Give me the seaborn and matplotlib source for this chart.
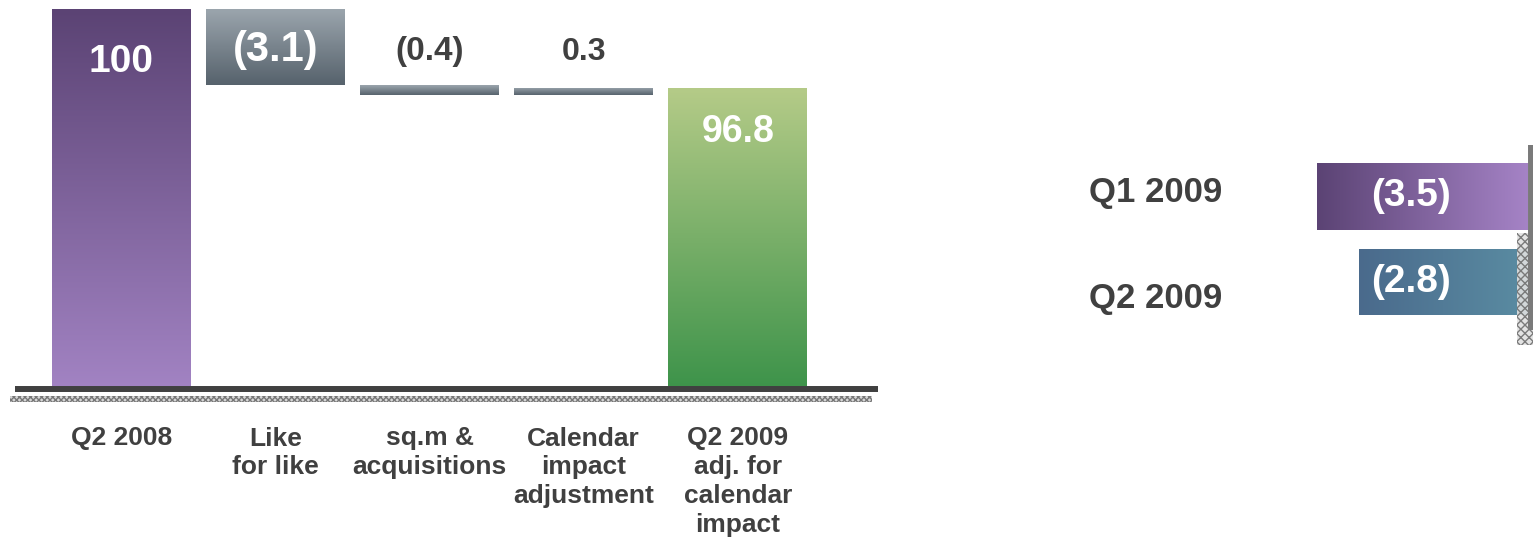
import numpy as np
import pandas as pd
import matplotlib
matplotlib.use("Agg")
import matplotlib.pyplot as plt
from matplotlib.colors import LinearSegmentedColormap
from matplotlib.patches import Rectangle
import matplotlib.transforms as mtransforms
import seaborn as sns

# ---------------- data ----------------
wf_categories = ["Q2 2008", "Like\nfor like", "sq.m &\nacquisitions",
                 "Calendar\nimpact\nadjustment", "Q2 2009\nadj. for\ncalendar\nimpact"]
wf_values = [100, -3.1, -0.4, 0.3, 96.8]
wf_kinds = ["total", "delta", "delta", "delta", "total"]

q_categories = ["Q1 2009", "Q2 2009"]
q_values = [-3.5, -2.8]

# ---------------- style ----------------
sns.set_style("white")
plt.rcParams["font.family"] = ["Liberation Sans", "DejaVu Sans"]
plt.rcParams["font.weight"] = "bold"
DARK = "#404040"

fig = plt.figure(figsize=(15.33, 5.43), dpi=100)

W, H = 1533, 543
def px_axes(x0, y0, x1, y1):
    return fig.add_axes([x0 / W, (H - y1) / H, (x1 - x0) / W, (y1 - y0) / H])

def fmt(v):
    return f"({abs(v):.1f})" if v < 0 else f"{v:g}"

def gradient(ax, patch, c0, c1, vertical=True):
    x0, y0 = patch.get_x(), patch.get_y()
    x1, y1 = x0 + patch.get_width(), y0 + patch.get_height()
    xa, xb = sorted((x0, x1))
    ya, yb = sorted((y0, y1))
    lo, hi = sorted(ax.get_ylim())
    ya, yb = max(ya, lo), min(yb, hi)
    lx, hx = sorted(ax.get_xlim())
    xa, xb = max(xa, lx), min(xb, hx)
    cmap = LinearSegmentedColormap.from_list("g", [c0, c1])
    g = np.linspace(0, 1, 256)
    arr = g.reshape(-1, 1) if vertical else g.reshape(1, -1)
    im = ax.imshow(arr, cmap=cmap, extent=(xa, xb, ya, yb), origin="upper",
                   aspect="auto", interpolation="bicubic", zorder=patch.get_zorder() + 0.1)
    im.set_clip_path(patch)

# ---------------- waterfall ----------------
ax = px_axes(15, 9, 878, 389)
Y_FLOOR = 84.6

bottoms, heights, tops = [], [], []
running = 0.0
for v, k in zip(wf_values, wf_kinds):
    if k == "total":
        bottoms.append(0.0); heights.append(v); running = v
    else:
        b = running if v > 0 else running + v
        bottoms.append(b); heights.append(abs(v)); running += v
    tops.append(bottoms[-1] + heights[-1])

df = pd.DataFrame({"cat": wf_categories, "h": heights})
sns.barplot(data=df, x="cat", y="h", bottom=bottoms, color="#888888",
            width=0.9, errorbar=None, linewidth=0, ax=ax)
ax.set_ylim(Y_FLOOR, 100)
ax.set_xlim(-0.69, 4.91)

grad_cols = {
    "first": ("#5b4374", "#a283c3"),
    "last": ("#b5cb88", "#3d934a"),
    "delta": ("#9ca6ae", "#56626c"),
}
for i, p in enumerate(ax.patches):
    key = "first" if i == 0 else ("last" if i == len(ax.patches) - 1 else "delta")
    p.set_facecolor(grad_cols[key][1])
    gradient(ax, p, *grad_cols[key], vertical=True)

# value labels
# (anchor: 'top' of bar / 'mid' of bar; pixel offset; colour; size)
lab_style = [("top", -53, "white", 28), ("mid", -3, "white", 30),
             ("top", 34, DARK, 24), ("top", 36, DARK, 23), ("top", -44, "white", 27)]
for i, (v, (anc, off, col, fs)) in enumerate(zip(wf_values, lab_style)):
    y = tops[i] if anc == "top" else bottoms[i] + heights[i] / 2
    ax.annotate(fmt(v), (i, y), xytext=(0, off), textcoords="offset pixels",
                ha="center", va="center", color=col, fontsize=fs, fontweight="bold",
                zorder=10)

ax.axhline(Y_FLOOR, color=DARK, lw=4.3, clip_on=False, zorder=5,
           solid_capstyle="butt")
ax.add_patch(Rectangle((-0.006, -0.0342), 0.999, 0.0158, transform=ax.transAxes,
                       facecolor="#d8d8d8", edgecolor="#777777", hatch="xxxxxx",
                       lw=0, clip_on=False))
ax.set_xlabel(""); ax.set_ylabel("")
ax.set_yticks([])
ax.set_xticks(range(len(wf_categories)))
ax.set_xticklabels(wf_categories, fontsize=19, fontweight="bold", color=DARK,
                   linespacing=1.25, va="top")
ax.tick_params(axis="x", length=0, pad=27)
for s in ax.spines.values():
    s.set_visible(False)

# ---------------- right bars ----------------
ax2 = px_axes(1300, 145, 1533, 345)
dq = pd.DataFrame({"q": q_categories, "v": q_values})
sns.barplot(data=dq, x="v", y="q", orient="y", color="#888888", width=0.78,
            errorbar=None, linewidth=0, ax=ax2)
ax2.set_xlim(-3.787, 0.083)
ax2.set_ylim(1.737, -0.602)
q_grads = [("#5b4374", "#a583c6"), ("#4a6a8c", "#5a8ca2")]
for p, (c0, c1) in zip(ax2.patches, q_grads):
    p.set_facecolor(c1)
    gradient(ax2, p, c0, c1, vertical=False)

LABEL_X = -1.94
for i, v in enumerate(q_values):
    ax2.text(LABEL_X, i, fmt(v), ha="center", va="center", color="white",
             fontsize=28, fontweight="bold", zorder=10)

tr = mtransforms.blended_transform_factory(ax2.transData, ax2.transAxes)
ax2.add_patch(Rectangle((-0.183, 0.0), 0.266, 0.56, transform=tr,
                        facecolor="#e0e0e0", edgecolor="#707070", hatch="xxxx",
                        lw=0, zorder=3, alpha=0.9))
ax2.axvline(0.05, ymin=0.075, ymax=1.0, color="#7a7a7a", lw=4.3, zorder=4,
            solid_capstyle="butt")

ax2.set_xlabel(""); ax2.set_ylabel("")
ax2.set_xticks([])
ax2.tick_params(axis="y", length=0, pad=56)
for lbl, dy in zip(ax2.get_yticklabels(), [7, -13]):
    lbl.set_fontsize(25); lbl.set_fontweight("bold"); lbl.set_color(DARK)
    lbl.set_transform(lbl.get_transform() +
                      mtransforms.ScaledTranslation(0, dy / 100, fig.dpi_scale_trans))
for s in ax2.spines.values():
    s.set_visible(False)

fig.savefig("out.png", dpi=100)
